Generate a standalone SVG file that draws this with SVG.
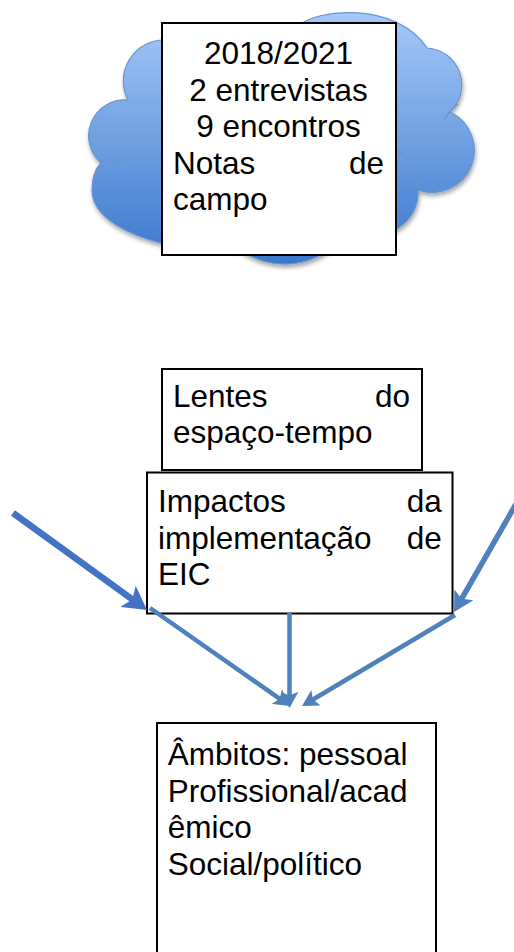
<svg xmlns="http://www.w3.org/2000/svg" width="514" height="952" viewBox="0 0 514 952">
  <style>
    .box { fill: #ffffff; stroke: #000000; stroke-width: 2; }
    .t { font-family: "Liberation Sans", Arial, sans-serif; font-size: 31.5px; fill: #000000; }
    .c { text-anchor: middle; }
    .e { text-anchor: end; }
    .thick { stroke: #4472C4; fill: none; }
    .thin { stroke: #4F81BD; fill: none; }
    .inner { fill: none; stroke: #6C95CB; stroke-width: 1.2; }
  </style>
  <defs>
    <linearGradient id="cloudGrad" x1="0" y1="0" x2="0" y2="1">
      <stop offset="0" stop-color="#A6C9F9"/>
      <stop offset="1" stop-color="#3A77CC"/>
    </linearGradient>
    <filter id="shadow" x="-10%" y="-10%" width="125%" height="130%">
      <feDropShadow dx="1" dy="3" stdDeviation="2" flood-color="#000000" flood-opacity="0.35"/>
    </filter>
    <marker id="headDark" viewBox="0 -2 3.6 4" markerWidth="3.6" markerHeight="4" refX="1.2" refY="0" orient="auto" markerUnits="strokeWidth">
      <path d="M0,-2 L3.6,0 L0,2 L0.8,0 Z" fill="#4472C4"/>
    </marker>
    <marker id="head" viewBox="0 -2 3.6 4" markerWidth="3.6" markerHeight="4" refX="1.2" refY="0" orient="auto" markerUnits="strokeWidth">
      <path d="M0,-2 L3.6,0 L0,2 L0.8,0 Z" fill="#4F81BD"/>
    </marker>
  </defs>

  <g id="cloud">
    <path filter="url(#shadow)" fill="url(#cloudGrad)" stroke="#6C95CB" stroke-width="1.2"
      d="M101,163 A36,36 0 0,1 128,100 A41,41 0 0,1 165,40 L300,25 C315,10 395,0 427,48 A37,37 0 0,1 450,112 A42.2,42.2 0 0,1 418,190 A41,41 0 0,1 392,231 L328.3,250 A75,75 0 0,1 240.7,250 L165,244 C130,236 92,218 92,190 C92,176 96,168 101,163 Z"/>
    <path class="inner" d="M104,158 Q118,165 134,163"/>
    <path class="inner" d="M444,120 Q450,110 458,104"/>
    <path class="inner" d="M396,150 Q414,160 418,188"/>
  </g>

  <g id="node-dados">
    <rect class="box" x="162" y="23" width="234" height="232"/>
    <text class="t c" x="278.5" y="64">2018/2021</text>
    <text class="t c" x="278.5" y="100.5">2 entrevistas</text>
    <text class="t c" x="278.5" y="137">9 encontros</text>
    <text class="t" x="173" y="173.5">Notas</text>
    <text class="t e" x="384" y="173.5">de</text>
    <text class="t" x="173" y="210">campo</text>
  </g>

  <g id="node-lentes">
    <rect class="box" x="162" y="369" width="260" height="101"/>
    <text class="t" x="173" y="406.5">Lentes</text>
    <text class="t e" x="410" y="406.5">do</text>
    <text class="t" x="173" y="443">espaço-tempo</text>
  </g>

  <g id="node-impactos">
    <rect class="box" x="147" y="472.5" width="305.5" height="141"/>
    <text class="t" x="158" y="512">Impactos</text>
    <text class="t e" x="441.7" y="512">da</text>
    <text class="t" x="158" y="548.5">implementação</text>
    <text class="t e" x="441.7" y="548.5">de</text>
    <text class="t" x="158" y="585">EIC</text>
  </g>

  <g id="node-ambitos">
    <rect class="box" x="157" y="723" width="279" height="260"/>
    <text class="t" x="167.7" y="765">Âmbitos: pessoal</text>
    <text class="t" x="167.7" y="801.7">Profissional/acad</text>
    <text class="t" x="167.7" y="838.3">êmico</text>
    <text class="t" x="167.7" y="875">Social/político</text>
  </g>

  <g id="connectors">
    <line class="thick" x1="13" y1="513" x2="134.4" y2="600.9" stroke-width="6.5" marker-end="url(#headDark)"/>
    <line class="thin" x1="520" y1="497" x2="460.6" y2="600.6" stroke-width="5.5" marker-end="url(#head)"/>
    <line class="thin" x1="150" y1="608" x2="281.2" y2="699.8" stroke-width="4.5" marker-end="url(#head)"/>
    <line class="thin" x1="289.5" y1="613" x2="289.5" y2="697.2" stroke-width="4.5" marker-end="url(#head)"/>
    <line class="thin" x1="455" y1="615" x2="311.3" y2="700.5" stroke-width="4.5" marker-end="url(#head)"/>
  </g>
</svg>
